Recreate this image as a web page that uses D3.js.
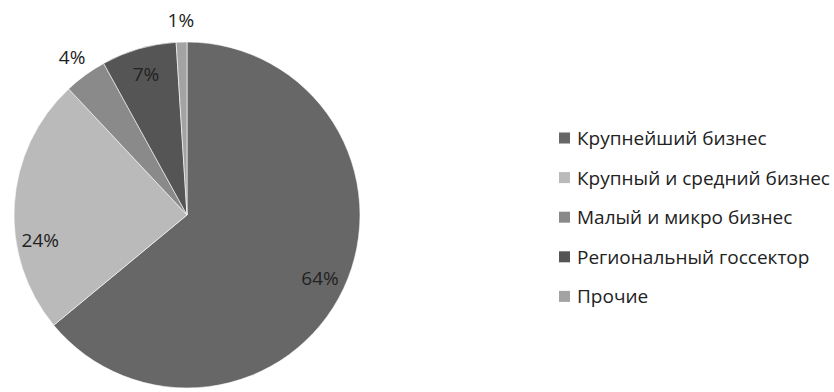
<!DOCTYPE html>
<html>
<head>
<meta charset="utf-8">
<script src="https://cdn.jsdelivr.net/npm/d3@7"></script>
<style>
  html, body { margin: 0; padding: 0; background: #fff; }
  svg { display: block; }
  text { font-family: "Open Sans", "Noto Sans", sans-serif; fill: #222; }
</style>
</head>
<body>
<svg id="chart" width="834" height="392"></svg>
<script>
// Segments of the pie, in drawing order (clockwise from 12 o'clock)
const categories = [
  "Крупнейший бизнес",
  "Крупный и средний бизнес",
  "Малый и микро бизнес",
  "Региональный госсектор",
  "Прочие"
];
const shares = [64, 24, 4, 7, 1];
const sliceColors = ["#676767", "#bababa", "#8a8a8a", "#555555", "#a3a3a3"];

const svg = d3.select("#chart");
const cx = 187, cy = 215, R = 173;

const pie = d3.pie().sort(null).value(d => d.value);
const arcs = pie(categories.map((c, i) => ({ name: c, value: shares[i], color: sliceColors[i] })));

const arc = d3.arc().innerRadius(0).outerRadius(R);
const g = svg.append("g").attr("transform", `translate(${cx},${cy})`);

g.selectAll("path.slice")
  .data(arcs)
  .join("path")
  .attr("class", "slice")
  .attr("d", arc)
  .attr("fill", d => d.data.color)
  .attr("stroke", "#fff")
  .attr("stroke-width", 0.6);

// Small slices get their labels outside the pie, the rest inside
const innerLabel = d3.arc().innerRadius(R * 0.85).outerRadius(R * 0.85);
const outerLabel = d3.arc().innerRadius(R * 1.13).outerRadius(R * 1.13);
// best-fit nudge for the wide left-hand slice label
const labelNudge = { "Крупный и средний бизнес": [0, 34] };

g.selectAll("text.pct")
  .data(arcs)
  .join("text")
  .attr("class", "pct")
  .attr("transform", d => {
    const a = d.data.value < 5 ? outerLabel : innerLabel;
    const [x, y] = a.centroid(d);
    const [nx, ny] = labelNudge[d.data.name] || [0, 0];
    return `translate(${x + nx},${y + ny})`;
  })
  .attr("text-anchor", "middle")
  .attr("dominant-baseline", "central")
  .attr("font-size", 19)
  .text(d => d.data.value + "%");

// Legend
const legend = svg.append("g").attr("transform", "translate(559,138)");
const rows = legend.selectAll("g.row")
  .data(arcs)
  .join("g")
  .attr("class", "row")
  .attr("transform", (d, i) => `translate(0,${i * 39.6})`);

rows.append("rect")
  .attr("x", 0).attr("y", -5.5)
  .attr("width", 11).attr("height", 11)
  .attr("fill", d => d.data.color);

rows.append("text")
  .attr("x", 18)
  .attr("y", 0)
  .attr("dominant-baseline", "central")
  .attr("font-size", 19)
  .text(d => d.data.name);
</script>
</body>
</html>
